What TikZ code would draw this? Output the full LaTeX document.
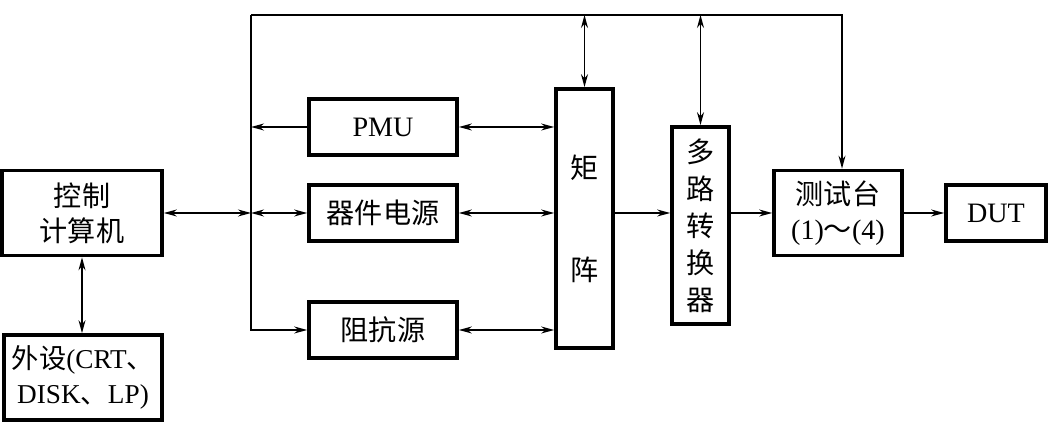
\documentclass[tikz,border=0pt]{standalone}
\usepackage{fontspec}
\setmainfont{Liberation Serif}
\newfontfamily\cjk{Noto Sans CJK SC}
\usetikzlibrary{arrows.meta,positioning}

\begin{document}
\begin{tikzpicture}[>={Stealth[length=2.6mm,width=1.4mm]},
  box/.style={draw, line width=2.1pt, align=center, inner sep=0pt, font=\fontsize{16}{20}\selectfont},
  cbox/.style={box, font=\cjk\fontsize{16}{21}\selectfont},
  line/.style={line width=0.8pt}]
  \useasboundingbox (0,0) rectangle (20.96,8.44);
  % 左侧：控制计算机与外设
  \node[box, minimum width=3.2cm, minimum height=1.7cm] (ctrl) at (1.64,4.18) {{\cjk 控制}\\{\cjk 计算机}};
  \node[box, minimum width=3.16cm, minimum height=1.7cm, font=\fontsize{15.5}{20}\selectfont] (peri) at (1.66,0.89) {{\cjk 外设}(CRT{\cjk 、}\\DISK{\cjk 、}LP)};
  % 中间：三个源
  \node[box, minimum width=2.96cm, minimum height=1.12cm] (pmu) at (7.66,5.9) {PMU};
  \node[cbox, minimum width=2.96cm, minimum height=1.12cm] (dps) at (7.66,4.18) {器件电源};
  \node[cbox, minimum width=2.96cm, minimum height=1.12cm] (imp) at (7.66,1.84) {阻抗源};
  % 矩阵与多路转换器
  \node[cbox, minimum width=1.14cm, minimum height=5.18cm] (matrix) at (11.69,4.07) {矩\\[1.3cm]阵};
  \node[cbox, minimum width=1.14cm, minimum height=3.94cm] (mux) at (14.01,3.93) {多\\路\\转\\换\\器};
  % 右侧：测试台与 DUT
  \node[box, minimum width=2.56cm, minimum height=1.7cm] (bench) at (16.76,4.18) {{\cjk 测试台}\\(1){\cjk ～}(4)};
  \node[box, minimum width=2.0cm, minimum height=1.12cm] (dut) at (19.92,4.18) {DUT};

  % 总线
  \coordinate (busT) at (5.02,8.14);
  \coordinate (busM) at (5.02,4.18);
  \draw[line,->] (busT) |- (imp.west);
  \draw[line,->] (busT) -| ([xshift=0.08cm]bench.north);
  \draw[line,<->] (matrix.north |- busT) -- (matrix.north);
  \draw[line,<->] (mux.north |- busT) -- (mux.north);
  \draw[line,<->] (ctrl.east) -- (busM);
  \draw[line,<->] (busM) -- (dps.west);
  \draw[line,->] (pmu.west) -- (pmu.west -| busT);
  \draw[line,<->] (ctrl.south) -- (ctrl.south |- peri.north);

  % 到矩阵
  \draw[line,<->] (pmu.east) -- (pmu.east -| matrix.west);
  \draw[line,<->] (dps.east) -- (dps.east -| matrix.west);
  \draw[line,<->] (imp.east) -- (imp.east -| matrix.west);
  \draw[line,->] (matrix.east |- busM) -- (mux.west |- busM);
  \draw[line,->] (mux.east |- busM) -- (bench.west);
  \draw[line,->] (bench.east) -- (dut.west);
\end{tikzpicture}
\end{document}
